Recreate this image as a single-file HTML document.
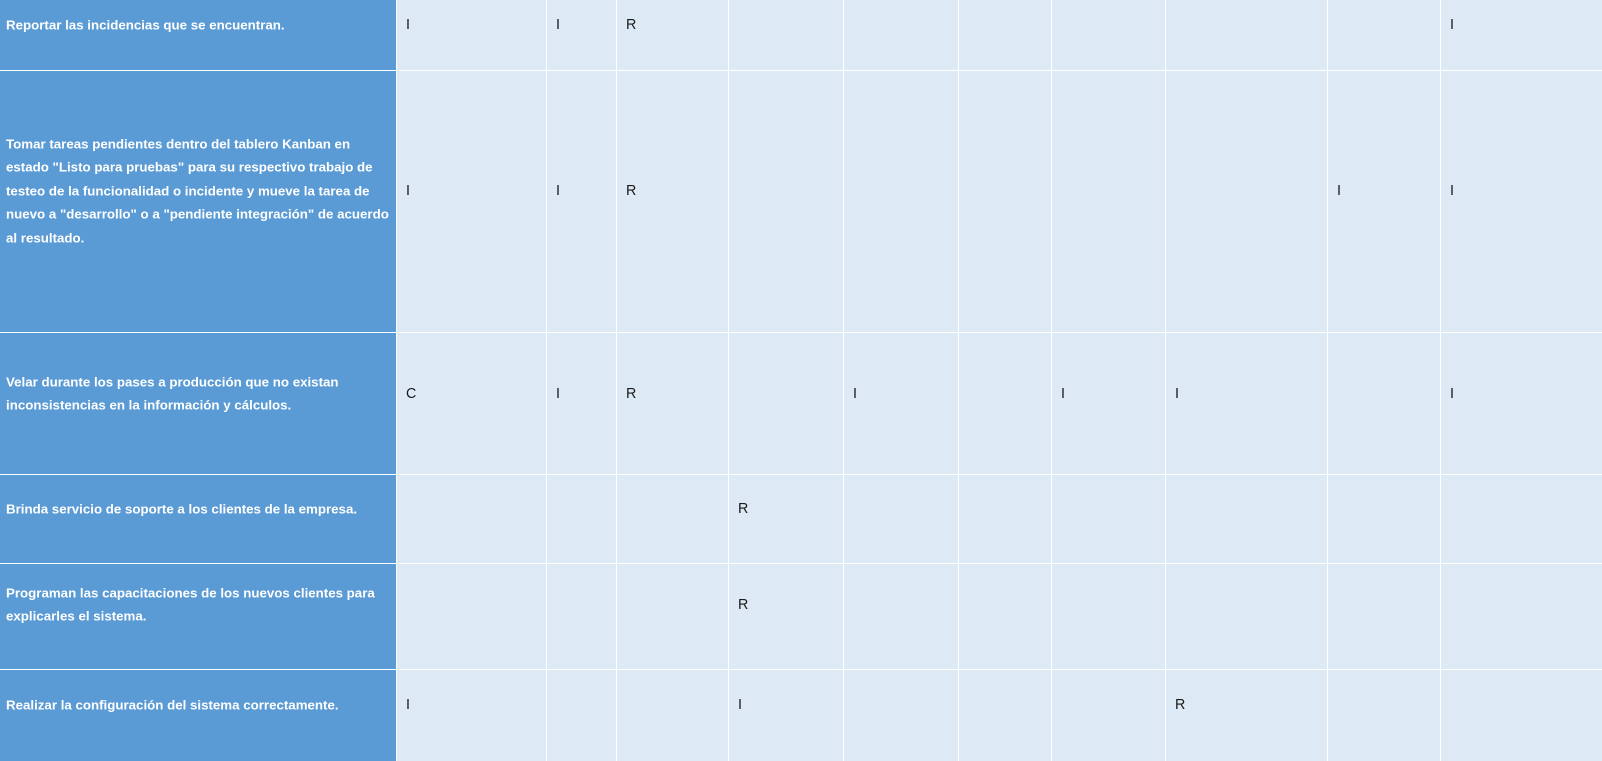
<!DOCTYPE html>
<html><head><meta charset="utf-8"><style>
body{margin:0;width:1602px;height:761px;overflow:hidden;background:#fff;font-family:"Liberation Sans",Arial,sans-serif}
.c{position:absolute;background:#ddeaf6;box-sizing:border-box}
.h{position:absolute;background:#5b9bd5;box-sizing:border-box}
.t{position:absolute;left:6px;width:390px;color:#fff;font-weight:bold;font-size:13.3px;line-height:23.4px;transform:translateY(-50%)}
.l{position:absolute;font-size:14.3px;color:#1a1a1a;transform:translateY(-50%)}
</style></head><body>
<div id="tbl"></div>
<script>
const xs=[0,397,547,617,729,844,959,1052,1166,1328,1441,1602];
const ys=[0,71,333,475,564,670,761];
const textY=[24.5,191,394,509,605,705];
const tasks=["Reportar las incidencias que se encuentran.",
"Tomar tareas pendientes dentro del tablero Kanban en estado \"Listo para pruebas\" para su respectivo trabajo de testeo de la funcionalidad o incidente y mueve la tarea de nuevo a \"desarrollo\" o a \"pendiente integración\" de acuerdo al resultado.",
"Velar durante los pases a producción que no existan inconsistencias en la información y cálculos.",
"Brinda servicio de soporte a los clientes de la empresa.",
"Programan las capacitaciones de los nuevos clientes para explicarles el sistema.",
"Realizar la configuración del sistema correctamente."];
const raci=[
["I","I","R","","","","","","","I"],
["I","I","R","","","","","","I","I"],
["C","I","R","","I","","I","I","","I"],
["","","","R","","","","","",""],
["","","","R","","","","","",""],
["I","","","I","","","","R","",""]];
const root=document.getElementById('tbl');
for(let r=0;r<6;r++){
  const h=document.createElement('div');h.className='h';
  
  
  h.style.left='0px';h.style.top=ys[r]+'px';h.style.width=(xs[1]-1)+'px';h.style.height=(ys[r+1]-ys[r]-(r<5?1.5:0))+'px';
  root.appendChild(h);
  const t=document.createElement('div');t.className='t';t.textContent=tasks[r];
  
  
  t.style.top=textY[r]+'px';root.appendChild(t);
  for(let c=1;c<11;c++){
    const d=document.createElement('div');d.className='c';
    
    
    d.style.left=xs[c]+'px';d.style.top=ys[r]+'px';d.style.width=(xs[c+1]-xs[c]-(c<10?1.5:0))+'px';d.style.height=(ys[r+1]-ys[r]-(r<5?1.5:0))+'px';
    root.appendChild(d);
    const v=raci[r][c-1];
    if(v){const l=document.createElement('div');l.className='l';l.textContent=v;
      
      
      l.style.left=(xs[c]+9)+'px';l.style.top=textY[r]+'px';root.appendChild(l);}
  }
}
</script>
</body></html>
